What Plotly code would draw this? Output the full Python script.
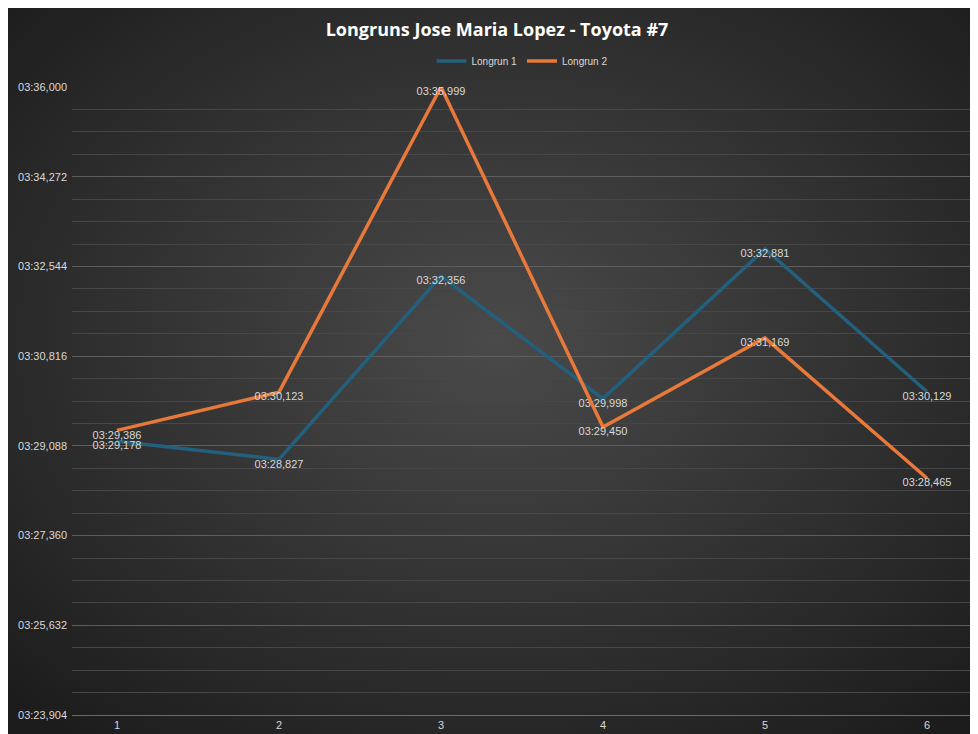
import plotly.graph_objects as go
import base64

laps = ["1", "2", "3", "4", "5", "6"]
longrun1 = [209.178, 208.827, 212.356, 209.998, 212.881, 210.129]
longrun2 = [209.386, 210.123, 215.999, 209.450, 211.169, 208.465]
tick_vals = [203.904, 205.632, 207.360, 209.088, 210.816, 212.544, 214.272, 216.000]

def fmt(s):
    m = int(s // 60)
    r = s - m * 60
    sec = int(r)
    ms = int(round((r - sec) * 1000))
    if ms == 1000:
        sec += 1; ms = 0
    return f"{m:02d}:{sec:02d},{ms:03d}"

W, H, L, R, T, B = 978, 734, 64, 14, 79, 27
PW, PH = W - L - R, H - T - B

svg = ('<svg xmlns="http://www.w3.org/2000/svg" width="978" height="734">'
       '<defs><radialGradient id="g" cx="50%" cy="45%" r="70%">'
       '<stop offset="0%" stop-color="#4a4a4a"/><stop offset="100%" stop-color="#1c1c1c"/>'
       '</radialGradient></defs><rect width="978" height="734" fill="url(#g)"/></svg>')
src = "data:image/svg+xml;base64," + base64.b64encode(svg.encode()).decode()

fig = go.Figure()
for name, vals, col in [("Longrun 1", longrun1, "#23607e"), ("Longrun 2", longrun2, "#e8793a")]:
    fig.add_trace(go.Scatter(x=laps, y=vals, name=name, mode="lines+text",
                             line=dict(color=col, width=3.5),
                             text=[fmt(v) for v in vals], textposition="bottom center",
                             textfont=dict(color="#d9d9d9", size=11, family="Liberation Sans")))

fig.update_layout(
    width=W, height=H,
    paper_bgcolor="#2e2e2e", plot_bgcolor="rgba(0,0,0,0)",
    images=[dict(source=src, xref="paper", yref="paper", x=-L / PW, y=1 + T / PH,
                 sizex=W / PW, sizey=H / PH,
                 xanchor="left", yanchor="top", layer="below", sizing="stretch")],
    margin=dict(l=L, r=R, t=T, b=B, autoexpand=False),
    title=dict(text="<b>Longruns Jose Maria Lopez - Toyota #7</b>", x=0.5, y=1 - 22 / H,
               xanchor="center", yanchor="middle",
               font=dict(color="white", size=18, family="Open Sans")),
    legend=dict(orientation="h", x=0.5, xanchor="center", y=1 + 26 / PH, yanchor="middle",
                font=dict(color="#d9d9d9", size=10, family="Liberation Sans"), bgcolor="rgba(0,0,0,0)"),
    xaxis=dict(showgrid=False, automargin=False,
               tickfont=dict(color="#d9d9d9", size=11, family="Liberation Sans"),
               showline=True, linecolor="#6a6a6a", ticks=""),
    yaxis=dict(range=[203.904, 216.0], automargin=False, tickvals=tick_vals,
               ticktext=[fmt(v) for v in tick_vals], ticklabelstandoff=4,
               tickfont=dict(color="#d9d9d9", size=11, family="Liberation Sans"),
               gridcolor="#5e5e5e", zeroline=False,
               minor=dict(tick0=203.904, dtick=0.432, showgrid=True, gridcolor="#474747")),
    showlegend=True,
)
fig.write_html("out.html")
